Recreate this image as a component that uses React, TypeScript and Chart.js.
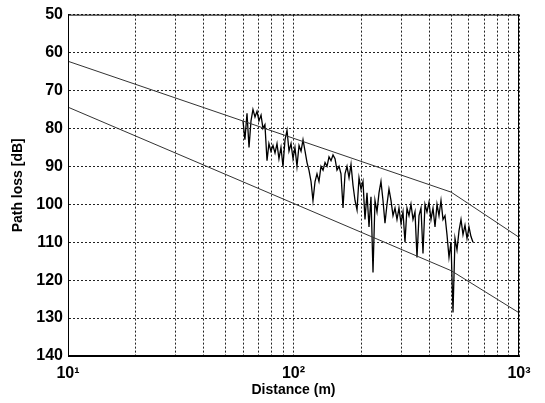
import React, { useEffect, useRef } from "react";
import { Chart, registerables } from "chart.js";

Chart.register(...registerables);

// Measured path loss (distance in m, loss in dB)
const distances = [
  59.7, 60.9, 62.2, 63.5, 64.8, 66.1, 67.5, 68.9, 70.3, 71.8,
  73.2, 74.7, 76.3, 77.8, 79.4, 81.1, 82.8, 84.5, 86.2, 88.0,
  89.8, 91.7, 93.6, 95.5, 97.5, 99.5, 101.5, 103.6, 105.8, 108.0,
  110.2, 112.5, 114.8, 117.1, 119.6, 122.0, 124.6, 127.1, 129.7, 132.4,
  135.2, 138.0, 140.8, 143.7, 146.7, 149.7, 152.8, 155.9, 159.2, 162.4,
  165.8, 169.2, 172.7, 176.3, 179.9, 183.6, 187.4, 191.3, 195.2, 199.2,
  203.3, 207.5, 211.8, 216.2, 220.6, 225.2, 229.8, 234.6, 239.4, 244.3,
  249.4, 254.5, 259.8, 265.1, 270.6, 276.2, 281.9, 287.7, 293.6, 299.7,
  305.9, 312.2, 318.6, 325.2, 331.9, 338.8, 345.8, 352.9, 360.2, 367.6,
  375.2, 382.9, 390.8, 398.9, 407.1, 415.6, 424.2, 432.9, 441.8, 450.9,
  460.2, 469.7, 479.4, 489.3, 499.4, 509.7, 520.2, 530.9, 541.9, 553.1,
  564.5, 576.1, 588.0, 600.1, 612.5, 625.2,
];
const pathLoss = [
  78, 83, 76, 85, 78, 75, 77, 75.5, 78, 76.5,
  80, 79, 88.5, 84, 86, 84.5, 86.5, 84, 88, 85,
  90, 83, 80.5, 86, 84, 88, 85, 90, 84.5, 86,
  83, 86, 89, 91, 94, 99, 94, 92, 94, 90,
  91, 89, 90, 87.5, 88.5, 87, 88, 91, 90, 92,
  101, 92, 90, 93, 89.5, 95, 99, 101.5, 93, 96,
  94, 104, 97, 106, 98, 118, 99, 102, 97, 94,
  99, 105, 100, 96, 99, 103, 101, 104, 101, 105,
  102, 110, 101, 103, 100, 104, 102, 114, 103, 101,
  113, 100, 102, 99.5, 104, 101, 106, 100, 103, 99,
  104, 103, 108, 114, 110, 128.5, 109, 112, 107, 104,
  108, 105.5, 109, 106, 108.5, 110,
];

// Model lines (two-slope)
const modelDistances = [10, 500, 1000];
const upperModel = [62.3, 96.8, 108.7];
const lowerModel = [74.4, 117.5, 128.6];

// Axis ticks
const xTickValues = [10, 20, 30, 40, 50, 60, 70, 80, 90, 100, 200, 300, 400, 500, 600, 700, 800, 900, 1000];
const xTickLabels: Record<number, string> = { 10: "10\u00B9", 100: "10\u00B2", 1000: "10\u00B3" };
const yTickValues = [50, 60, 70, 80, 90, 100, 110, 120, 130, 140];

const FONT = "'Liberation Sans', Arial, Helvetica, sans-serif";

const framePlugin = {
  id: "frame",
  afterDraw(chart: any) {
    const { ctx, chartArea } = chart;
    ctx.save();
    ctx.strokeStyle = "#000";
    ctx.lineWidth = 1;
    ctx.setLineDash([]);
    ctx.strokeRect(chartArea.left + 0.5, chartArea.top + 0.5, chartArea.right - chartArea.left - 1, chartArea.bottom - chartArea.top - 1);
    ctx.restore();
  },
};

export default function App() {
  const canvasRef = useRef<HTMLCanvasElement | null>(null);

  useEffect(() => {
    document.body.style.margin = "0";
    const canvas = canvasRef.current;
    if (!canvas) return;
    const measured = distances.map((d, i) => ({ x: d, y: pathLoss[i] }));
    const upper = modelDistances.map((d, i) => ({ x: d, y: upperModel[i] }));
    const lower = modelDistances.map((d, i) => ({ x: d, y: lowerModel[i] }));

    const chart = new Chart(canvas, {
      type: "scatter",
      data: {
        datasets: [
          { data: upper, showLine: true, borderColor: "#333", borderWidth: 1, pointRadius: 0, tension: 0 },
          { data: lower, showLine: true, borderColor: "#333", borderWidth: 1, pointRadius: 0, tension: 0 },
          { data: measured, showLine: true, borderColor: "#000", borderWidth: 1.3, pointRadius: 0, tension: 0 },
        ],
      },
      options: {
        animation: false,
        responsive: false,
        layout: { padding: { left: 0, top: 13, right: 26, bottom: 0 } },
        plugins: { legend: { display: false }, tooltip: { enabled: false } },
        scales: {
          x: {
            type: "logarithmic",
            min: 10,
            max: 1000,
            afterBuildTicks: (scale: any) => {
              scale.ticks = xTickValues.map((v) => ({ value: v }));
            },
            afterFit: (scale: any) => {
              scale.height = 47;
            },
            ticks: {
              autoSkip: false,
              maxRotation: 0,
              padding: 8,
              color: "#000",
              font: { family: FONT, size: 16, weight: "bold" },
              callback: (value: any) => xTickLabels[Number(value)] ?? "",
            },
            grid: { color: "#222", lineWidth: 1, drawTicks: false },
            border: { display: true, color: "#000", width: 1, dash: [2, 2] },
            title: {
              display: true,
              text: "Distance (m)",
              color: "#000",
              font: { family: FONT, size: 14, weight: "bold" },
              padding: { top: 0, bottom: 4 },
            },
          },
          y: {
            type: "linear",
            reverse: true,
            min: 50,
            max: 140,
            afterBuildTicks: (scale: any) => {
              scale.ticks = yTickValues.map((v) => ({ value: v }));
            },
            afterFit: (scale: any) => {
              scale.width = 68;
            },
            ticks: {
              padding: 5,
              color: "#000",
              font: { family: FONT, size: 16, weight: "bold" },
            },
            grid: { color: "#222", lineWidth: 1, drawTicks: false },
            border: { display: true, color: "#000", width: 1, dash: [2, 2] },
            title: {
              display: true,
              text: "Path loss [dB]",
              color: "#000",
              font: { family: FONT, size: 14, weight: "bold" },
              padding: { top: 10, bottom: 0 },
            },
          },
        },
      },
      plugins: [framePlugin],
    } as any);

    return () => {
      chart.destroy();
    };
  }, []);

  return (
    <div style={{ position: "fixed", left: 0, top: 0, width: 545, height: 403, background: "#fff" }}>
      <canvas ref={canvasRef} width={545} height={403} />
    </div>
  );
}
